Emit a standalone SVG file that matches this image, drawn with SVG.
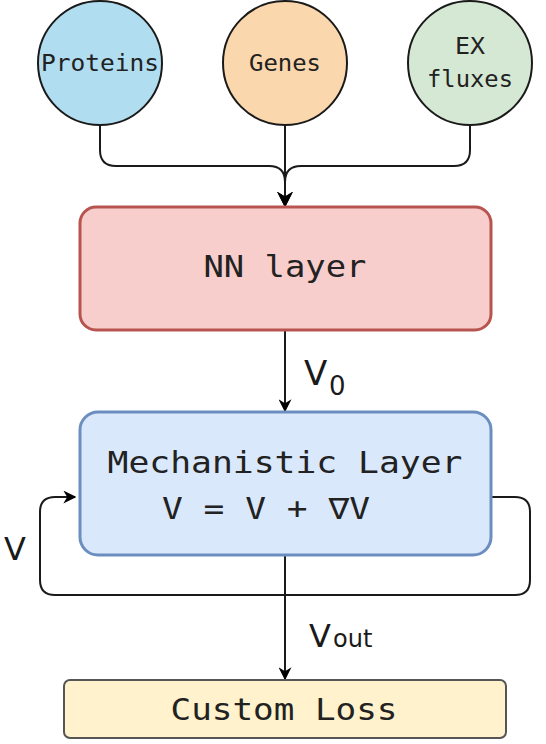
<svg xmlns="http://www.w3.org/2000/svg" width="546" height="744" viewBox="0 0 546 744">
<defs>
<marker id="ah" viewBox="0 0 10 10" refX="9" refY="5" markerWidth="13" markerHeight="13" markerUnits="userSpaceOnUse" orient="auto">
<path d="M0,0 L10,5 L0,10 L3,5 Z" fill="#000"/>
</marker>
<marker id="ahb" viewBox="0 0 10 10" refX="9" refY="5" markerWidth="16" markerHeight="16" markerUnits="userSpaceOnUse" orient="auto">
<path d="M0,0 L10,5 L0,10 L3,5 Z" fill="#000"/>
</marker>
<style>
.mono{font-family:"DejaVu Sans Mono","Liberation Mono",monospace;fill:#222;text-anchor:middle}
.lbl{font-family:"DejaVu Sans","Liberation Sans",sans-serif;fill:#1a1a1a}
.edge{fill:none;stroke:#1a1a1a;stroke-width:2}
</style>
</defs>
<rect width="546" height="744" fill="#fff"/>
<g id="connectors">
<path class="edge" d="M100,125 V150 Q100,166 116,166 H269 Q285,166 285,182 V206" marker-end="url(#ahb)"/>
<path class="edge" d="M470,125 V150 Q470,166 454,166 H301 Q285,166 285,182 V206"/>
<path class="edge" d="M285,125 V206" marker-end="url(#ahb)"/>
<path class="edge" d="M285,330 V411" marker-end="url(#ah)"/>
<path class="edge" d="M491,497 H515 Q530,497 530,512 V580 Q530,595 515,595 H55 Q40,595 40,580 V512 Q40,497 55,497 H75" marker-end="url(#ah)"/>
<path class="edge" d="M285,555 V679" marker-end="url(#ah)"/>
<text class="lbl" x="304" y="385" font-size="34">V</text>
<text class="lbl" x="329" y="395" font-size="26">0</text>
<text class="lbl" x="4" y="560" font-size="32">V</text>
<text class="lbl" x="309" y="647" font-size="32">V</text>
<text class="lbl" x="333" y="647" font-size="24">out</text>
</g>
<g id="proteins">
<circle cx="100" cy="63" r="62" fill="#b1ddf0" stroke="#1a1a1a" stroke-width="2"/>
<text class="mono" x="100" y="71" font-size="23" textLength="118" lengthAdjust="spacingAndGlyphs">Proteins</text>
</g>
<g id="genes">
<circle cx="285" cy="63" r="62" fill="#fad7ac" stroke="#1a1a1a" stroke-width="2"/>
<text class="mono" x="285" y="71" font-size="23" textLength="72" lengthAdjust="spacingAndGlyphs">Genes</text>
</g>
<g id="exfluxes">
<circle cx="470" cy="63" r="62" fill="#d5e8d4" stroke="#1a1a1a" stroke-width="2"/>
<text class="mono" x="470" y="54" font-size="23" textLength="30" lengthAdjust="spacingAndGlyphs">EX</text>
<text class="mono" x="470" y="87" font-size="23" textLength="86" lengthAdjust="spacingAndGlyphs">fluxes</text>
</g>
<g id="nn">
<rect x="80" y="207" width="411" height="123" rx="16" fill="#f8cecc" stroke="#b85450" stroke-width="3"/>
<text class="mono" x="285" y="277" font-size="30" textLength="163" lengthAdjust="spacingAndGlyphs">NN layer</text>
</g>
<g id="mech">
<rect x="80" y="412" width="411" height="143" rx="18" fill="#dae8fc" stroke="#6c8ebf" stroke-width="3"/>
<text class="mono" x="285" y="473" font-size="30" textLength="355" lengthAdjust="spacingAndGlyphs">Mechanistic Layer</text>
<text class="mono" x="266" y="519" font-size="30" textLength="208" lengthAdjust="spacingAndGlyphs">V = V + ∇V</text>
</g>
<g id="loss">
<rect x="64" y="680" width="442" height="58" rx="6" fill="#fff2cc" stroke="#555" stroke-width="2"/>
<text class="mono" x="284" y="720" font-size="30" textLength="227" lengthAdjust="spacingAndGlyphs">Custom Loss</text>
</g>
</svg>
